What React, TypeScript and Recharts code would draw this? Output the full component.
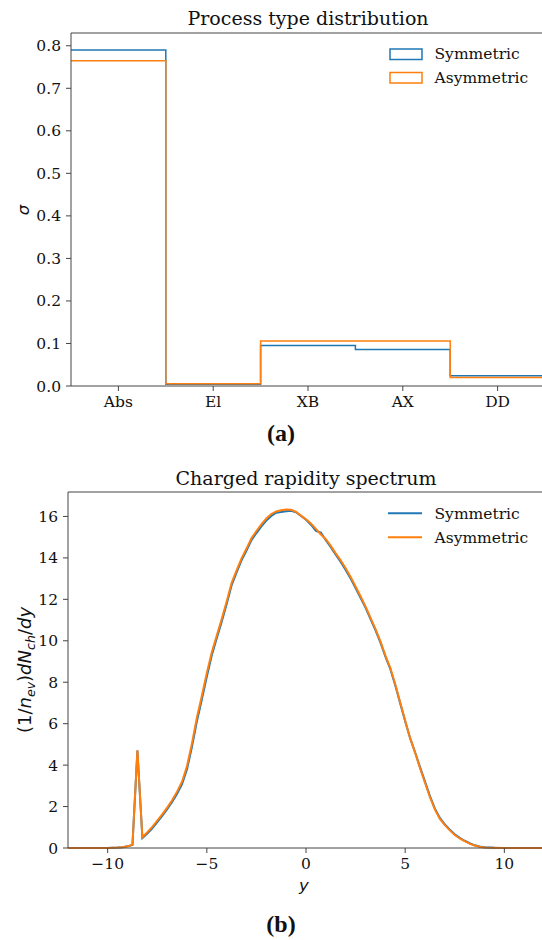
import { LineChart, Line, XAxis, YAxis, ReferenceLine } from 'recharts';

const BLUE = '#1f77b4';
const ORANGE = '#ff7f0e';
const SERIF = '"DejaVu Serif", serif';
const SANS = '"DejaVu Sans", sans-serif';
const TICK = { fontFamily: SERIF, fontSize: 15.5, fill: '#111' };

const seriesNames = ['Symmetric', 'Asymmetric'];

// (a) process type distribution, one value per category
const processCats = ['Abs', 'El', 'XB', 'AX', 'DD'];
const processSym = [0.79, 0.004, 0.095, 0.086, 0.024];
const processAsym = [0.765, 0.005, 0.106, 0.106, 0.02];
const processTicks = [0, 0.1, 0.2, 0.3, 0.4, 0.5, 0.6, 0.7, 0.8];

// (b) charged rapidity spectrum
const rapidityY = [
  -12, -11.5, -11, -10.5, -10, -9.5, -9.25, -9, -8.75, -8.5, -8.25, -8, -7.75, -7.5, -7.25, -7,
  -6.75, -6.5, -6.25, -6, -5.75, -5.5, -5.25, -5, -4.75, -4.5, -4.25, -4, -3.75, -3.5, -3.25, -3,
  -2.75, -2.5, -2.25, -2, -1.75, -1.5, -1.25, -1, -0.75, -0.5, -0.25, 0, 0.25, 0.5, 0.75, 1,
  1.25, 1.5, 1.75, 2, 2.25, 2.5, 2.75, 3, 3.25, 3.5, 3.75, 4, 4.25, 4.5, 4.75, 5,
  5.25, 5.5, 5.75, 6, 6.25, 6.5, 6.75, 7, 7.25, 7.5, 7.75, 8, 8.25, 8.5, 8.75, 9,
  9.5, 10, 10.5, 11, 11.5, 12, 12.5,
];
const rapiditySym = [
  0, 0, 0, 0, 0.005, 0.02, 0.04, 0.08, 0.15, 4.7, 0.48, 0.7, 0.95, 1.25, 1.55, 1.88,
  2.22, 2.62, 3.08, 3.8, 4.88, 6.12, 7.18, 8.28, 9.3, 10.12, 10.92, 11.78, 12.68, 13.3, 13.88, 14.36,
  14.86, 15.2, 15.52, 15.8, 16.02, 16.18, 16.22, 16.25, 16.27, 16.2, 16.02, 15.84, 15.6, 15.3, 15.22, 14.85,
  14.52, 14.15, 13.8, 13.42, 13.0, 12.55, 12.08, 11.6, 11.06, 10.52, 9.92, 9.25, 8.64, 7.85, 6.98, 6.12,
  5.3, 4.62, 3.9, 3.2, 2.5, 1.9, 1.45, 1.14, 0.88, 0.66, 0.49, 0.35, 0.23, 0.13, 0.07, 0.035,
  0.01, 0, 0, 0, 0, 0, 0,
];
const rapidityAsym = [
  0, 0, 0, 0, 0.005, 0.02, 0.04, 0.08, 0.16, 4.72, 0.52, 0.76, 1.02, 1.32, 1.62, 1.95,
  2.3, 2.72, 3.2, 3.95, 5.05, 6.3, 7.35, 8.45, 9.45, 10.25, 11.05, 11.9, 12.8, 13.4, 13.98, 14.45,
  14.95, 15.3, 15.62, 15.9, 16.12, 16.24, 16.3, 16.33, 16.32, 16.22, 16.04, 15.86, 15.66, 15.4, 15.13, 14.9,
  14.58, 14.22, 13.88, 13.5, 13.08, 12.62, 12.15, 11.66, 11.12, 10.58, 9.98, 9.3, 8.7, 7.9, 7.02, 6.15,
  5.3, 4.6, 3.85, 3.15, 2.45, 1.85, 1.4, 1.1, 0.85, 0.63, 0.46, 0.33, 0.21, 0.12, 0.06, 0.03,
  0.01, 0, 0, 0, 0, 0, 0,
];
const rapidityXTicks = [-10, -5, 0, 5, 10];
const rapidityYTicks = [0, 2, 4, 6, 8, 10, 12, 14, 16];

// step edges: each bin starts half a unit left of its category
const processData = [
  ...processCats.map((_, i) => ({ x: i - 0.5, sym: processSym[i], asym: processAsym[i] })),
  { x: processCats.length - 0.5, sym: processSym[processCats.length - 1], asym: processAsym[processCats.length - 1] },
];
const rapidityData = rapidityY.map((y, i) => ({ y, sym: rapiditySym[i], asym: rapidityAsym[i] }));

const fmtMinus = (v: number) => (v < 0 ? `\u2212${Math.abs(v)}` : `${v}`);

export default function App() {
  return (
    <div style={{ position: 'absolute', left: 0, top: 0, width: 542, height: 940, overflow: 'hidden', background: '#fff' }}>
      <div style={{ position: 'absolute', left: 0, top: 0 }}>
        <LineChart width={560} height={420} data={processData} margin={{ top: 33, right: 15, left: 0, bottom: 0 }}>
          <XAxis
            dataKey="x"
            type="number"
            domain={[-0.5, 4.5]}
            allowDataOverflow
            ticks={[0, 1, 2, 3, 4]}
            tickFormatter={(v: number) => processCats[v]}
            tick={TICK}
            tickSize={5}
            tickMargin={5}
            height={34}
            stroke="#444"
          />
          <YAxis
            type="number"
            domain={[0, 0.83]}
            ticks={processTicks}
            tickFormatter={(v: number) => v.toFixed(1)}
            tick={TICK}
            tickSize={5}
            tickMargin={5}
            width={71}
            stroke="#444"
          />
          <ReferenceLine y={0.83} stroke="#444" />
          <Line dataKey="sym" type="stepAfter" stroke={BLUE} strokeWidth={1.5} dot={false} isAnimationActive={false} />
          <Line dataKey="asym" type="stepAfter" stroke={ORANGE} strokeWidth={1.5} dot={false} isAnimationActive={false} />
        </LineChart>
      </div>

      <div style={{ position: 'absolute', left: 0, top: 459 }}>
        <LineChart width={554} height={419} data={rapidityData} margin={{ top: 33, right: 10, left: 0, bottom: 0 }}>
          <XAxis
            dataKey="y"
            type="number"
            domain={[-12, 12]}
            allowDataOverflow
            ticks={rapidityXTicks}
            tickFormatter={fmtMinus}
            tick={TICK}
            tickSize={5}
            tickMargin={5}
            height={30}
            stroke="#444"
          />
          <YAxis
            type="number"
            domain={[0, 17.18]}
            ticks={rapidityYTicks}
            tick={TICK}
            tickSize={5}
            tickMargin={5}
            width={68}
            stroke="#444"
          />
          <ReferenceLine y={17.18} stroke="#444" />
          <Line dataKey="sym" type="linear" stroke={BLUE} strokeWidth={2} dot={false} isAnimationActive={false} />
          <Line dataKey="asym" type="linear" stroke={ORANGE} strokeWidth={2} dot={false} isAnimationActive={false} />
        </LineChart>
      </div>

      <svg width={542} height={940} style={{ position: 'absolute', left: 0, top: 0, pointerEvents: 'none' }}>
        {/* titles */}
        <text x={308} y={25} textAnchor="middle" fontFamily={SERIF} fontSize={19} fill="#111">
          Process type distribution
        </text>
        <text x={306} y={485} textAnchor="middle" fontFamily={SERIF} fontSize={19} fill="#111">
          Charged rapidity spectrum
        </text>

        {/* legend (a): open patches */}
        {seriesNames.map((name, i) => (
          <g key={`la-${name}`}>
            <rect x={390} y={49 + i * 23.5} width={32} height={10.5} fill="none" stroke={i === 0 ? BLUE : ORANGE} strokeWidth={1.5} />
            <text x={434.5} y={54 + i * 23.5} dy="0.35em" fontFamily={SERIF} fontSize={15.5} fill="#111">{name}</text>
          </g>
        ))}
        {/* legend (b): lines */}
        {seriesNames.map((name, i) => (
          <g key={`lb-${name}`}>
            <line x1={388} x2={422} y1={513.3 + i * 24} y2={513.3 + i * 24} stroke={i === 0 ? BLUE : ORANGE} strokeWidth={2} />
            <text x={434.5} y={513.3 + i * 24} dy="0.35em" fontFamily={SERIF} fontSize={15.5} fill="#111">{name}</text>
          </g>
        ))}

        {/* axis labels */}
        <text x={23} y={210} transform="rotate(-90 23 210)" textAnchor="middle" dy="0.35em" fontFamily={SANS} fontStyle="italic" fontSize={16.5} fill="#111">
          σ
        </text>
        <text x={25} y={670} transform="rotate(-90 25 670)" textAnchor="middle" dy="0.35em" fontFamily={SANS} fontSize={18} fill="#111">
          <tspan>(1/</tspan>
          <tspan fontStyle="italic">n</tspan>
          <tspan fontStyle="italic" fontSize={12.6} dy={3.5}>ev</tspan>
          <tspan dy={-3.5}>)</tspan>
          <tspan fontStyle="italic">dN</tspan>
          <tspan fontStyle="italic" fontSize={12.6} dy={3.5}>ch</tspan>
          <tspan dy={-3.5}>/</tspan>
          <tspan fontStyle="italic">dy</tspan>
        </text>
        <text x={304} y={885} textAnchor="middle" dy="0.35em" fontFamily={SANS} fontStyle="italic" fontSize={16.5} fill="#111">
          y
        </text>

        {/* subfigure captions */}
        <text x={281} y={433} textAnchor="middle" dy="0.35em" fontFamily='"Liberation Serif", serif' fontWeight="bold" fontSize={24} fill="#111">
          (a)
        </text>
        <text x={281} y={924} textAnchor="middle" dy="0.35em" fontFamily='"Liberation Serif", serif' fontWeight="bold" fontSize={24} fill="#111">
          (b)
        </text>
      </svg>
    </div>
  );
}
